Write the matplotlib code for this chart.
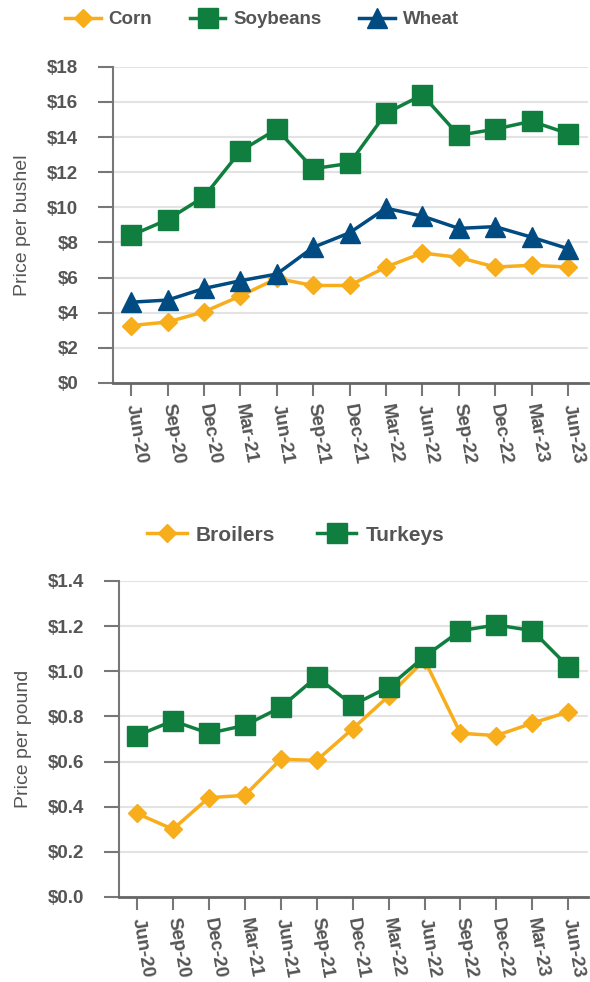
import numpy as np
import matplotlib.pyplot as plt

plt.rcParams['font.family'] = ['Liberation Sans', 'DejaVu Sans']

dates = ['Jun-20', 'Sep-20', 'Dec-20', 'Mar-21', 'Jun-21', 'Sep-21', 'Dec-21',
         'Mar-22', 'Jun-22', 'Sep-22', 'Dec-22', 'Mar-23', 'Jun-23']

corn = [3.27, 3.47, 4.05, 4.95, 5.95, 5.55, 5.55, 6.6, 7.4, 7.15, 6.6, 6.7, 6.6]
soybeans = [8.4, 9.3, 10.6, 13.2, 14.45, 12.2, 12.5, 15.35, 16.4, 14.1, 14.45, 14.9, 14.2]
wheat = [4.6, 4.72, 5.38, 5.82, 6.2, 7.72, 8.55, 9.95, 9.5, 8.8, 8.9, 8.3, 7.65]

broilers = [0.37, 0.30, 0.44, 0.45, 0.61, 0.605, 0.745, 0.89, 1.05, 0.725, 0.715, 0.77, 0.82]
turkeys = [0.715, 0.78, 0.725, 0.76, 0.84, 0.975, 0.85, 0.93, 1.065, 1.18, 1.205, 1.18, 1.02]

ORANGE = '#F8AD1B'
GREEN = '#107E3F'
NAVY = '#004B82'
TXT = '#555555'

fig = plt.figure(figsize=(5.9, 9.82), dpi=100)
ax1 = fig.add_axes([0.1915, 0.610, 0.805, 0.322])
ax2 = fig.add_axes([0.2017, 0.0866, 0.795, 0.3218])

x = np.arange(len(dates))


def style(ax, ylim, yticks, ylabels, ylabel, lx):
    ax.set_xlim(-0.5, 12.55)
    ax.set_ylim(*ylim)
    ax.set_yticks(yticks)
    ax.set_yticklabels(ylabels, fontsize=13.5, fontweight='bold', color=TXT)
    ax.set_xticks(x)
    ax.set_xticklabels(dates, fontsize=13.5, fontweight='bold', color=TXT,
                       rotation=-80, ha='left', va='center', rotation_mode='anchor')
    ax.tick_params(axis='x', length=9, width=1.5, color='#777777', pad=6)
    ax.tick_params(axis='y', length=11, width=1.5, color='#777777', pad=14)
    ax.grid(axis='y', color='#e3e3e3', lw=1.5)
    ax.set_axisbelow(True)
    for s in ['top', 'right']:
        ax.spines[s].set_visible(False)
    ax.spines['left'].set_color('#777777')
    ax.spines['left'].set_linewidth(1.5)
    ax.spines['bottom'].set_color('#666666')
    ax.spines['bottom'].set_linewidth(2)
    ax.set_ylabel(ylabel, fontsize=14, color=TXT)
    ax.yaxis.set_label_coords(lx, 0.5)


def legend(handles, xc, yc, size):
    fig.legend(handles=handles, loc='center', bbox_to_anchor=(xc, yc),
               ncol=len(handles), frameon=False, handlelength=1.9, columnspacing=2.0,
               handletextpad=0.43, prop={'weight': 'bold', 'size': size}, labelcolor=TXT)


ax1.plot(x, corn, color=ORANGE, lw=2.5, marker='D', ms=9.5, label='Corn', clip_on=False)
ax1.plot(x, soybeans, color=GREEN, lw=2.5, marker='s', ms=14, label='Soybeans', clip_on=False)
ax1.plot(x, wheat, color=NAVY, lw=2.5, marker='^', ms=14, label='Wheat', clip_on=False)
style(ax1, (0, 18), np.arange(0, 19, 2), ['$' + str(v) for v in range(0, 19, 2)],
      'Price per bushel', -0.172)
legend(ax1.get_lines(), 0.444, 0.980, 13.5)

ax2.plot(x, broilers, color=ORANGE, lw=2.5, marker='D', ms=9.5, label='Broilers', clip_on=False)
ax2.plot(x, turkeys, color=GREEN, lw=2.5, marker='s', ms=14, label='Turkeys', clip_on=False)
style(ax2, (0, 1.4), np.arange(0, 1.41, 0.2), ['$%.1f' % v for v in np.arange(0, 1.41, 0.2)],
      'Price per pound', -0.185)
legend(ax2.get_lines(), 0.501, 0.455, 15)

fig.savefig('out.png', dpi=100)
